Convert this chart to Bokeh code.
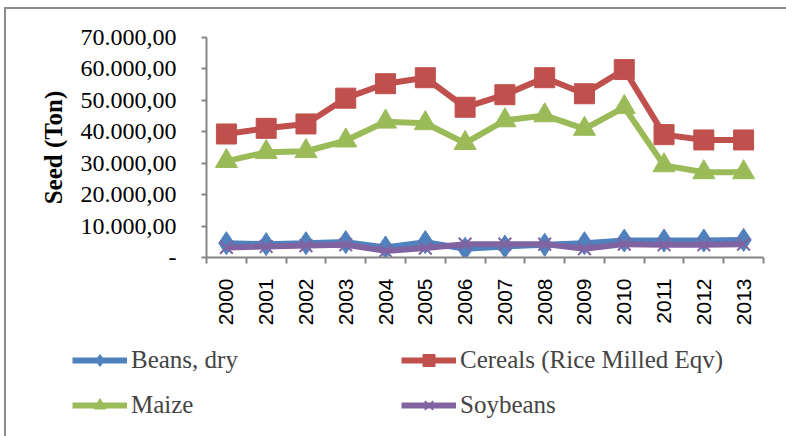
import numpy as np
from bokeh.plotting import figure
from bokeh.layouts import column
from bokeh.models import (ColumnDataSource, Range1d, FixedTicker, Legend, LegendItem)
from bokeh.embed import file_html
from bokeh.resources import INLINE

years = ["2000", "2001", "2002", "2003", "2004", "2005", "2006",
         "2007", "2008", "2009", "2010", "2011", "2012", "2013"]
beans = [4550, 4250, 4550, 4900, 3200, 4900, 2800, 3500, 4050, 4550, 5400, 5400, 5400, 5600]
cereals = [39300, 41100, 42500, 50700, 55300, 57200, 47800, 51800, 57200, 52100, 59800, 39100, 37400, 37400]
maize = [30650, 33500, 33800, 37200, 43200, 42700, 36400, 43600, 45200, 40900, 47800, 29300, 27100, 27100]
soybeans = [3200, 3500, 3800, 4050, 2100, 3000, 4250, 4250, 4250, 2800, 4250, 4050, 4050, 4250]
series_names = ["Beans, dry", "Cereals (Rice Milled Eqv)", "Maize", "Soybeans"]
y_ticks = [0, 10000, 20000, 30000, 40000, 50000, 60000, 70000]
y_labels = ["-", "10.000,00", "20.000,00", "30.000,00", "40.000,00", "50.000,00", "60.000,00", "70.000,00"]

x = np.arange(len(years)) + 0.5
src = ColumnDataSource(dict(x=x, beans=beans, cereals=cereals, maize=maize, soy=soybeans))

W = 786
H1, H2 = 330, 106
p = figure(width=W, height=H1, output_backend="svg", toolbar_location=None,
           x_range=Range1d(0, len(years)), y_range=Range1d(0, 70000),
           min_border_left=206, min_border_right=23, min_border_top=37, min_border_bottom=73)
p.frame_align = False
p.outline_line_color = None
p.border_fill_color = None
p.background_fill_color = None
p.xgrid.grid_line_color = None
p.ygrid.grid_line_color = None

axis_col = "#868686"
# y axis
p.yaxis.ticker = FixedTicker(ticks=y_ticks)
p.yaxis.major_label_overrides = {t: l for t, l in zip(y_ticks, y_labels)}
p.yaxis.axis_line_color = axis_col
p.yaxis.axis_line_width = 2
p.yaxis.major_tick_line_color = axis_col
p.yaxis.major_tick_line_width = 2
p.yaxis.major_tick_out = 5
p.yaxis.major_tick_in = 0
p.yaxis.minor_tick_line_color = None
p.yaxis.major_label_text_font = "Liberation Serif"
p.yaxis.major_label_text_font_size = "24px"
p.yaxis.major_label_text_color = "black"
p.yaxis.major_label_standoff = 25
p.yaxis.axis_label = "Seed (Ton)"
p.yaxis.axis_label_text_font = "Liberation Serif"
p.yaxis.axis_label_text_font_style = "bold"
p.yaxis.axis_label_text_font_size = "25px"
p.yaxis.axis_label_text_color = "black"
p.yaxis.axis_label_standoff = 11

# x axis
p.xaxis.ticker = FixedTicker(ticks=list(x), minor_ticks=list(range(len(years) + 1)))
p.xaxis.major_label_overrides = {float(v): y for v, y in zip(x, years)}
p.xaxis.axis_line_color = axis_col
p.xaxis.axis_line_width = 2
p.xaxis.major_tick_line_color = None
p.xaxis.major_tick_out = 0
p.xaxis.major_tick_in = 0
p.xaxis.minor_tick_line_color = axis_col
p.xaxis.minor_tick_line_width = 2
p.xaxis.minor_tick_out = 6
p.xaxis.minor_tick_in = 0
p.xaxis.major_label_orientation = np.pi / 2
p.xaxis.major_label_text_font = "Liberation Sans"
p.xaxis.major_label_text_font_size = "21px"
p.xaxis.major_label_text_color = "black"
p.xaxis.major_label_standoff = 15

blue, red, green, purple = "#4F81BD", "#C0504D", "#9BBB59", "#8064A2"

p.line("x", "beans", source=src, line_color=blue, line_width=6)
p.scatter("x", "beans", source=src, marker="diamond", size=23, color=blue)
p.line("x", "cereals", source=src, line_color=red, line_width=6)
p.scatter("x", "cereals", source=src, marker="square", size=20, color=red)
p.line("x", "maize", source=src, line_color=green, line_width=6)
p.scatter("x", "maize", source=src, marker="triangle", size=22, color=green)
p.line("x", "soy", source=src, line_color=purple, line_width=6)
p.scatter("x", "soy", source=src, marker="x", size=18, line_color=purple, line_width=2)

# legend figure below
q = figure(width=W, height=H2, output_backend="svg", toolbar_location=None,
           x_range=Range1d(0, 1), y_range=Range1d(0, 1), min_border=0,
           x_axis_location=None, y_axis_location=None)
q.frame_align = False
q.outline_line_color = None
q.border_fill_color = None
q.background_fill_color = None
q.grid.grid_line_color = None

colors = [blue, red, green, purple]
markers = ["diamond", "square", "triangle", "x"]
msizes = [14, 14, 14, 12]
items = {}
for name, c, m, s in zip(series_names, colors, markers, msizes):
    l = q.line([-5, -4], [-5, -4], line_color=c, line_width=6)
    if m == "x":
        g = q.scatter([-5], [-5], marker=m, size=s, line_color=c, line_width=2)
    else:
        g = q.scatter([-5], [-5], marker=m, size=s, color=c)
    items[name] = LegendItem(label=name, renderers=[l, g])

legend_style = dict(padding=0, margin=0, spacing=15, glyph_width=55, glyph_height=30,
                    label_height=30, label_standoff=4, label_text_font="Liberation Serif",
                    label_text_font_size="25px", border_line_color=None, background_fill_alpha=0)
leg1 = Legend(items=[items["Beans, dry"], items["Maize"]], location=(72, 16), **legend_style)
leg2 = Legend(items=[items["Cereals (Rice Milled Eqv)"], items["Soybeans"]], location=(401, 16),
              **legend_style)
q.add_layout(leg1, "center")
q.add_layout(leg2, "center")

layout = column(p, q, spacing=0)
layout.styles = {
    "background": "linear-gradient(#8c8c8c,#8c8c8c) 4px 7px / 2px 100% no-repeat, "
                  "linear-gradient(#8c8c8c,#8c8c8c) 4px 7px / 100% 2px no-repeat, white"
}

open("out.html", "w").write(file_html(layout, INLINE))
